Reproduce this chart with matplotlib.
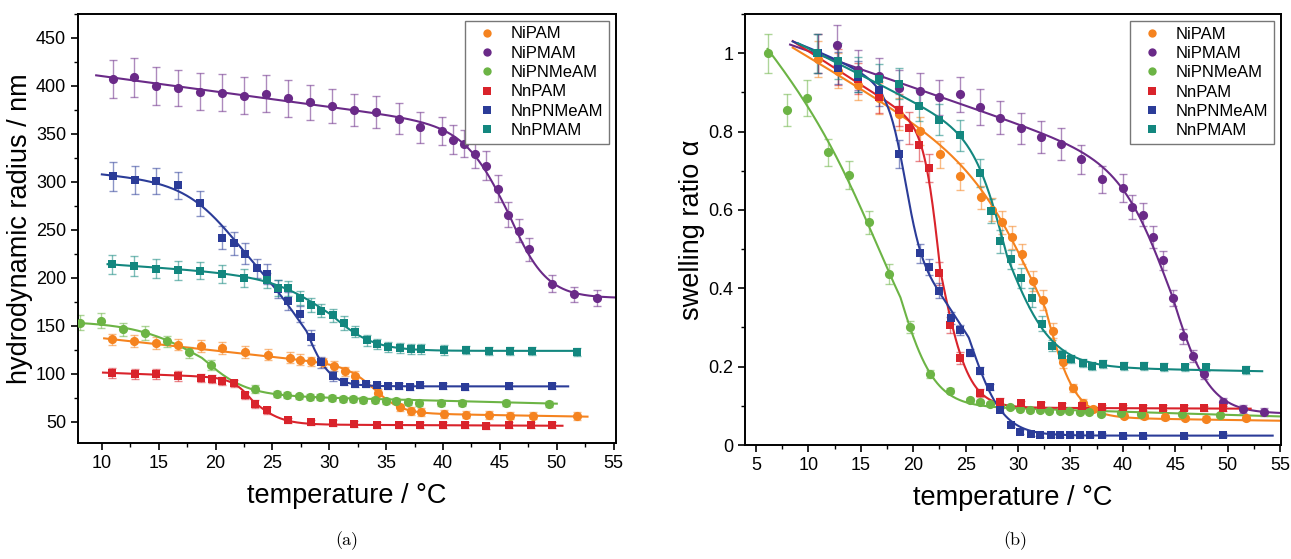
import numpy as np
import matplotlib
matplotlib.use("Agg")
import matplotlib.pyplot as plt
from matplotlib.lines import Line2D
from matplotlib.ticker import MultipleLocator, FormatStrFormatter

plt.rcParams['font.family'] = ['Liberation Sans', 'DejaVu Sans']

series_names = ["NiPAM", "NiPMAM", "NiPNMeAM", "NnPAM", "NnPNMeAM", "NnPMAM"]
series_colors = ["#f5831f", "#6a2a88", "#6cb445", "#d9232b", "#2b3c98", "#13877f"]
series_markers = ["o", "o", "o", "s", "s", "s"]

# ---------------- panel (a): hydrodynamic radius / nm ----------------
T_NiPAM_a = [10.9,12.8,14.8,16.7,18.7,20.6,22.6,24.6,26.5,27.4,28.4,29.4,30.4,31.4,32.3,34.3,36.2,37.2,38.1,40.1,42.0,44.0,45.9,47.9,51.8]
R_NiPAM_a = [136,134.4,132,130.6,129,127,123,120,117,115,113,112,108,102.6,98,80.6,65,61.5,60,58,57.6,57,56.6,56.6,56]
E_NiPAM_a = [6,6,6,6,6,6,6,6,6,6,5,5,5,5,5,4,4,4,4,4,4,4,4,4,4]

T_NiPMAM_a = [11.0,12.8,14.8,16.7,18.6,20.6,22.5,24.4,26.4,28.3,30.2,32.2,34.1,36.1,38.0,39.9,40.9,41.8,42.8,43.8,44.8,45.7,46.7,47.6,49.6,51.5,53.5]
R_NiPMAM_a = [407,409,400,398,394,393,390,392,387,383,379,375,373,366,357,353,344,340,329,317,293,266,249,230,194,183,179]
E_NiPMAM_a = [20,20,20,19,19,19,19,19,19,18,18,17,17,16,16,15,15,14,14,15,14,13,12,12,9,8,8]

T_NiPNMeAM_a = [8.1,9.9,11.9,13.8,15.7,17.7,19.6,23.5,25.4,26.3,27.3,28.3,29.2,30.2,31.2,32.1,33.0,34.0,35.0,35.9,36.9,37.9,39.8,41.7,45.5,49.3]
R_NiPNMeAM_a = [153.5,155.5,146.5,142.5,134,122.5,109,84,79,78,76.5,76,76,75,74,74,73,73,72,71.6,71,70,70,70,69.5,69]
E_NiPNMeAM_a = [8,8,7,7,6,6,5,4,3,3,3,3,3,3,3,3,3,3,3,3,3,3,3,3,3,3]

T_NnPAM_a = [10.9,12.9,14.8,16.7,18.7,19.7,20.6,21.6,22.6,23.5,24.5,26.4,28.4,30.3,32.2,34.2,36.1,38.0,40.0,41.9,43.8,45.8,47.7,49.6]
R_NnPAM_a = [101,100,99.7,98,96,94.5,92.7,90,77.5,68.7,62,51.5,49.4,48.6,48,47,47,46.5,46.5,46.5,46,46.5,46.5,47]
E_NnPAM_a = [5,5,5,5,4,4,4,4,4,4,4,3,3,3,3,3,3,3,3,3,3,3,3,3]

T_NnPNMeAM_a = [11.0,12.9,14.8,16.7,18.6,20.6,21.6,22.6,23.6,24.5,25.5,26.4,27.4,28.4,29.3,30.3,31.3,32.3,33.2,34.2,35.2,36.1,37.1,38.0,40.0,41.9,45.8,49.6]
R_NnPNMeAM_a = [306,302,301,296.5,278,242,236,225,210,204,188.5,176,162.5,138,112,98,92,89,89,88,87.5,87.5,86.5,88,87.5,86,87.5,87]
E_NnPNMeAM_a = [15,15,14,14,13,12,12,11,10,10,9,9,8,8,6,5,4,3,3,3,3,3,3,3,3,3,3,3]

T_NnPMAM_a = [10.9,12.8,14.8,16.7,18.6,20.6,22.5,24.5,25.5,26.4,27.4,28.4,29.3,30.3,31.3,32.3,33.3,34.2,35.2,36.2,37.2,38.1,40.1,42.0,44.0,45.9,47.8,51.8]
R_NnPMAM_a = [214,212.5,209.5,208,207.6,204,200,197.6,189.6,189,179,172,166,161,153,144,135,131,128,127,126,126,125,125,124,124,124,123]
E_NnPMAM_a = [10,10,10,10,9,9,9,8,8,8,7,7,7,7,7,6,6,5,5,5,5,5,5,4,4,4,4,4]

# fit curves (a): baseline (value at 30 degC, slope) and sigmoid steps (amplitude, slope, centre, width below, width above)
fitbase_a = [(60, -0.2), (179, 0), (75, -0.3), (47, -0.05), (87, 0), (124, 0)]
fitsteps_a = [
    [(46.8, -1.1, 34.1, 1.2, 1.2)],
    [(174, -1.6, 45.8, 1.9, 1.7)],
    [(76.6, 0.3, 18.8, 3.0, 1.9)],
    [(48.1, -0.4, 23.3, 0.9, 1.3)],
    [(105, -1.0, 21.5, 2.2, 2.2), (105, 0, 28.0, 1.8, 1.0)],
    [(74.6, -0.8, 30.2, 2.5, 1.9)],
]
fitrange_a = [(10.2, 52.7), (9.5, 55.2), (7.9, 50.0), (10.1, 50.5), (10.0, 51.0), (10.5, 51.8)]

# ---------------- panel (b): swelling ratio ----------------
T_NiPAM_b = [10.9,12.8,14.7,16.7,18.6,20.6,22.6,24.5,26.5,27.5,28.45,29.45,30.4,31.4,32.35,33.3,34.3,35.25,36.2,37.2,40.1,42.0,44.05,45.97,47.95,51.8]
A_NiPAM_b = [0.985,0.955,0.92,0.885,0.845,0.801,0.742,0.686,0.632,0.601,0.568,0.530,0.487,0.419,0.370,0.292,0.212,0.145,0.107,0.092,0.075,0.073,0.071,0.069,0.067,0.069]
E_NiPAM_b = [0.045,0.045,0.04,0.04,0.04,0.035,0.035,0.035,0.03,0.03,0.03,0.03,0.025,0.025,0.025,0.02,0.015,0.01,0.01,0.008,0.006,0.006,0.006,0.006,0.006,0.006]

T_NiPMAM_b = [12.77,14.77,16.7,18.6,20.6,22.5,24.46,26.4,28.3,30.25,32.2,34.1,36.04,38.0,40.0,40.9,41.9,42.85,43.8,44.8,45.7,46.7,47.7,49.6,51.5,53.45]
A_NiPMAM_b = [1.021,0.957,0.942,0.911,0.904,0.887,0.895,0.863,0.835,0.808,0.786,0.768,0.729,0.678,0.656,0.608,0.588,0.530,0.471,0.375,0.277,0.228,0.181,0.110,0.092,0.085]
E_NiPMAM_b = [0.05,0.05,0.045,0.045,0.045,0.045,0.045,0.045,0.042,0.04,0.04,0.04,0.038,0.035,0.035,0.03,0.03,0.028,0.025,0.02,0.018,0.015,0.012,0.01,0.01,0.01]

T_NiPNMeAM_b = [6.1,7.96,9.9,11.85,13.85,15.8,17.7,19.66,21.6,23.5,25.4,26.4,27.35,28.3,29.2,30.2,31.1,32.1,33.0,34.0,34.9,35.9,36.8,37.9,39.8,41.7,45.6,49.3]
A_NiPNMeAM_b = [1.0,0.855,0.886,0.747,0.689,0.568,0.436,0.301,0.181,0.139,0.114,0.109,0.104,0.100,0.097,0.093,0.090,0.090,0.088,0.087,0.086,0.085,0.084,0.080,0.082,0.080,0.078,0.076]
E_NiPNMeAM_b = [0.05,0.04,0.045,0.035,0.035,0.03,0.025,0.015,0.01,0.006,0.005,0.005,0.005,0.005,0.005,0.005,0.005,0.005,0.005,0.005,0.005,0.005,0.005,0.005,0.005,0.005,0.005,0.005]

T_NnPAM_b = [10.9,12.8,14.7,16.7,18.6,19.6,20.57,21.55,22.5,23.5,24.5,26.4,28.3,30.25,32.2,34.2,36.1,38.05,40.0,41.9,43.85,45.8,47.7,49.6]
A_NnPAM_b = [1.0,0.965,0.935,0.888,0.855,0.809,0.765,0.707,0.438,0.307,0.222,0.133,0.111,0.106,0.103,0.100,0.099,0.097,0.097,0.095,0.095,0.095,0.094,0.094]
E_NnPAM_b = [0.05,0.045,0.04,0.04,0.04,0.04,0.04,0.035,0.03,0.02,0.015,0.01,0.008,0.006,0.006,0.006,0.006,0.006,0.006,0.006,0.006,0.006,0.006,0.006]

T_NnPNMeAM_b = [10.9,12.8,14.7,16.7,18.6,20.6,21.55,22.5,23.6,24.5,25.4,26.4,27.35,28.3,29.3,30.2,31.2,32.1,33.1,34.0,35.0,35.9,36.9,38.0,40.0,41.9,45.8,49.6]
A_NnPNMeAM_b = [1.0,0.962,0.94,0.905,0.743,0.489,0.455,0.394,0.324,0.294,0.236,0.190,0.148,0.090,0.050,0.034,0.028,0.026,0.026,0.026,0.026,0.026,0.026,0.026,0.024,0.024,0.024,0.026]
E_NnPNMeAM_b = [0.05,0.04,0.04,0.04,0.035,0.025,0.02,0.02,0.015,0.012,0.01,0.01,0.008,0.006,0.005,0.005,0.005,0.005,0.005,0.005,0.005,0.005,0.005,0.005,0.005,0.005,0.005,0.005]

T_NnPMAM_b = [10.86,12.8,14.74,16.7,18.6,20.57,22.5,24.45,26.4,27.4,28.3,29.3,30.3,31.3,32.3,33.2,34.2,35.1,36.2,37.1,38.1,40.1,42.0,43.96,45.97,47.9,51.8]
A_NnPMAM_b = [1.0,0.980,0.946,0.933,0.922,0.866,0.830,0.790,0.694,0.597,0.520,0.474,0.427,0.376,0.310,0.254,0.231,0.219,0.209,0.202,0.206,0.201,0.201,0.199,0.198,0.198,0.192]
E_NnPMAM_b = [0.05,0.045,0.045,0.04,0.04,0.04,0.04,0.04,0.035,0.03,0.03,0.025,0.025,0.025,0.02,0.015,0.012,0.01,0.01,0.01,0.01,0.01,0.01,0.01,0.01,0.01,0.01]

fitbase_b = [(0.072, -0.0004), (0.08, 0), (0.093, -0.0008), (0.095, -0.0001), (0.024, 0), (0.2, -0.0005)]
fitsteps_b = [
    [(0.558, -0.0156, 32.6, 3.0, 1.5)],
    [(0.603, -0.0093, 44.7, 2.3, 1.85)],
    [(0.547, -0.0292, 18.8, 3.3, 1.85)],
    [(0.694, -0.017, 22.6, 0.75, 1.4)],
    [(0.40, -0.01, 19.3, 0.8, 0.8), (0.50, 0, 25.3, 3.0, 1.6)],
    [(0.555, -0.013, 29.0, 1.5, 2.3)],
]
fitrange_b = [(8.5, 55.1), (8.25, 55.1), (6.1, 55.1), (8.5, 52.2), (8.5, 54.3), (9.0, 53.3)]

data_a = [(T_NiPAM_a, R_NiPAM_a, E_NiPAM_a), (T_NiPMAM_a, R_NiPMAM_a, E_NiPMAM_a),
          (T_NiPNMeAM_a, R_NiPNMeAM_a, E_NiPNMeAM_a), (T_NnPAM_a, R_NnPAM_a, E_NnPAM_a),
          (T_NnPNMeAM_a, R_NnPNMeAM_a, E_NnPNMeAM_a), (T_NnPMAM_a, R_NnPMAM_a, E_NnPMAM_a)]
data_b = [(T_NiPAM_b, A_NiPAM_b, E_NiPAM_b), (T_NiPMAM_b, A_NiPMAM_b, E_NiPMAM_b),
          (T_NiPNMeAM_b, A_NiPNMeAM_b, E_NiPNMeAM_b), (T_NnPAM_b, A_NnPAM_b, E_NnPAM_b),
          (T_NnPNMeAM_b, A_NnPNMeAM_b, E_NnPNMeAM_b), (T_NnPMAM_b, A_NnPMAM_b, E_NnPMAM_b)]


def fit_curve(T, base, steps):
    b0, b1 = base
    y = b0 + b1 * (T - 30.0)
    for amp, slope, x0, w_lo, w_hi in steps:
        w = np.where(T < x0, w_lo, w_hi)
        y = y + (amp + slope * (T - x0)) / (1.0 + np.exp((T - x0) / w))
    return y


def marker_size(m):
    return 6.6 if m == 'o' else 6.0


fig = plt.figure(figsize=(12.91, 5.59), dpi=100)
ax1 = fig.add_axes([0.0604, 0.2075, 0.4167, 0.7675])
ax2 = fig.add_axes([0.5771, 0.2039, 0.4152, 0.7710])


def draw_panel(ax, data, bases, steps, ranges):
    for i, (T, Y, E) in enumerate(data):
        c = series_colors[i]
        t0, t1 = ranges[i]
        tt = np.linspace(t0, t1, 600)
        ax.plot(tt, fit_curve(tt, bases[i], steps[i]), color=c, lw=1.5, zorder=2)
        ax.errorbar(T, Y, yerr=E, fmt='none', ecolor=c, alpha=0.55, elinewidth=1.0,
                    capsize=2.8, capthick=1.0, zorder=1)
        ax.plot(T, Y, linestyle='none', marker=series_markers[i], ms=marker_size(series_markers[i]),
                color=c, markeredgewidth=0, zorder=3)
    for sp in ax.spines.values():
        sp.set_linewidth(1.4)
    ax.tick_params(axis='both', which='major', direction='out', length=5, width=1.2,
                   labelsize=13, top=False, right=False)
    ax.tick_params(axis='both', which='minor', direction='out', length=3, width=1.0,
                   top=False, right=False)
    handles = [Line2D([], [], linestyle='none', marker=series_markers[i],
                      ms=marker_size(series_markers[i]) - 0.6,
                      color=series_colors[i], markeredgewidth=0) for i in range(6)]
    leg = ax.legend(handles, series_names, loc='upper right', fontsize=12, frameon=True,
                    fancybox=False, edgecolor='#777777', framealpha=1, labelspacing=0.26,
                    handletextpad=0.5, borderpad=0.35, handlelength=1.9, borderaxespad=0.4)
    leg.get_frame().set_linewidth(1.0)


draw_panel(ax1, data_a, fitbase_a, fitsteps_a, fitrange_a)
ax1.set_xlim(7.9, 55.2)
ax1.set_ylim(28, 475)
ax1.xaxis.set_major_locator(MultipleLocator(5))
ax1.xaxis.set_minor_locator(MultipleLocator(2.5))
ax1.yaxis.set_major_locator(MultipleLocator(50))
ax1.yaxis.set_minor_locator(MultipleLocator(25))
ax1.set_xlabel("temperature / °C", fontsize=19.5, labelpad=8)
ax1.set_ylabel("hydrodynamic radius / nm", fontsize=19.5, labelpad=2)

draw_panel(ax2, data_b, fitbase_b, fitsteps_b, fitrange_b)
ax2.set_xlim(3.95, 55.1)
ax2.set_ylim(0, 1.1)
ax2.xaxis.set_major_locator(MultipleLocator(5))
ax2.xaxis.set_minor_locator(MultipleLocator(2.5))
ax2.yaxis.set_major_locator(MultipleLocator(0.2))
ax2.yaxis.set_minor_locator(MultipleLocator(0.1))
ax2.yaxis.set_major_formatter(FormatStrFormatter('%g'))
ax2.set_xlabel("temperature / °C", fontsize=19.5, labelpad=8)
ax2.set_ylabel("swelling ratio α", fontsize=19.5, labelpad=2)

fig.text(0.2688, 0.032, "(a)", fontsize=13, family=['cmr10', 'DejaVu Serif'], ha='center', va='center')
fig.text(0.7862, 0.032, "(b)", fontsize=13, family=['cmr10', 'DejaVu Serif'], ha='center', va='center')

fig.savefig("out.png", dpi=100)
